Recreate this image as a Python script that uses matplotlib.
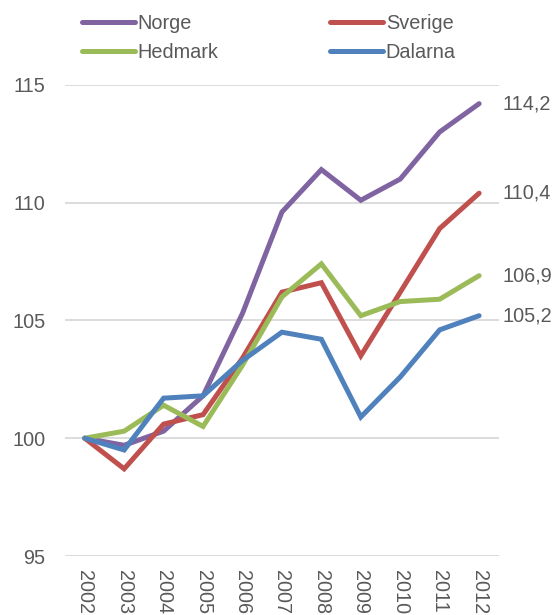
import matplotlib
matplotlib.use('Agg')
import matplotlib.pyplot as plt
import numpy as np

years = ['2002', '2003', '2004', '2005', '2006', '2007', '2008', '2009', '2010', '2011', '2012']
norge = [100, 99.7, 100.3, 101.8, 105.3, 109.6, 111.4, 110.1, 111.0, 113.0, 114.2]
sverige = [100, 98.7, 100.6, 101.0, 103.4, 106.2, 106.6, 103.5, 106.2, 108.9, 110.4]
hedmark = [100, 100.3, 101.4, 100.5, 103.1, 106.0, 107.4, 105.2, 105.8, 105.9, 106.9]
dalarna = [100, 99.5, 101.7, 101.8, 103.3, 104.5, 104.2, 100.9, 102.6, 104.6, 105.2]
end_labels = ['114,2', '110,4', '106,9', '105,2']

plt.rcParams['font.family'] = ['Liberation Sans', 'DejaVu Sans']
txt = '#595959'
fs = 14.3

fig = plt.figure(figsize=(5.58, 6.15), dpi=100)
ax = fig.add_axes([0.1165, 0.0959, 0.7775, 0.7662])

x = np.arange(len(years))
series = [('Norge', norge, '#8064A2'), ('Sverige', sverige, '#C0504D'),
          ('Hedmark', hedmark, '#9BBB59'), ('Dalarna', dalarna, '#4F81BD')]
handles = {}
for name, vals, col in series:
    ln, = ax.plot(x, vals, color=col, lw=3.6, solid_capstyle='round', solid_joinstyle='miter', label=name)
    handles[name] = ln

for (name, vals, col), lab in zip(series, end_labels):
    ax.annotate(lab, xy=(x[-1], vals[-1]), xytext=(17, 0), textcoords='offset points',
                va='center', ha='left', fontsize=fs, color=txt, annotation_clip=False)

ax.set_xlim(-0.5, 10.5)
ax.set_ylim(95, 115)
ax.set_yticks([95, 100, 105, 110, 115])
ax.grid(axis='y', color='#d9d9d9', lw=1.3)
ax.set_axisbelow(True)
for s in ax.spines.values():
    s.set_visible(False)
ax.set_xticks(x)
ax.set_xticklabels(years, rotation=-90, va='top', ha='center')
ax.tick_params(axis='both', length=0, labelsize=fs, labelcolor=txt)
ax.tick_params(axis='x', pad=10)
ax.tick_params(axis='y', pad=14)

order = ['Norge', 'Hedmark', 'Sverige', 'Dalarna']
fig.legend([handles[n] for n in order], order, ncol=2, loc='upper left',
           bbox_to_anchor=(0.115, 1.007), frameon=False, fontsize=fs,
           handlelength=2.66, handletextpad=0.15, columnspacing=5.6,
           labelspacing=0.51, labelcolor=txt)

plt.savefig('out.png', dpi=100)
